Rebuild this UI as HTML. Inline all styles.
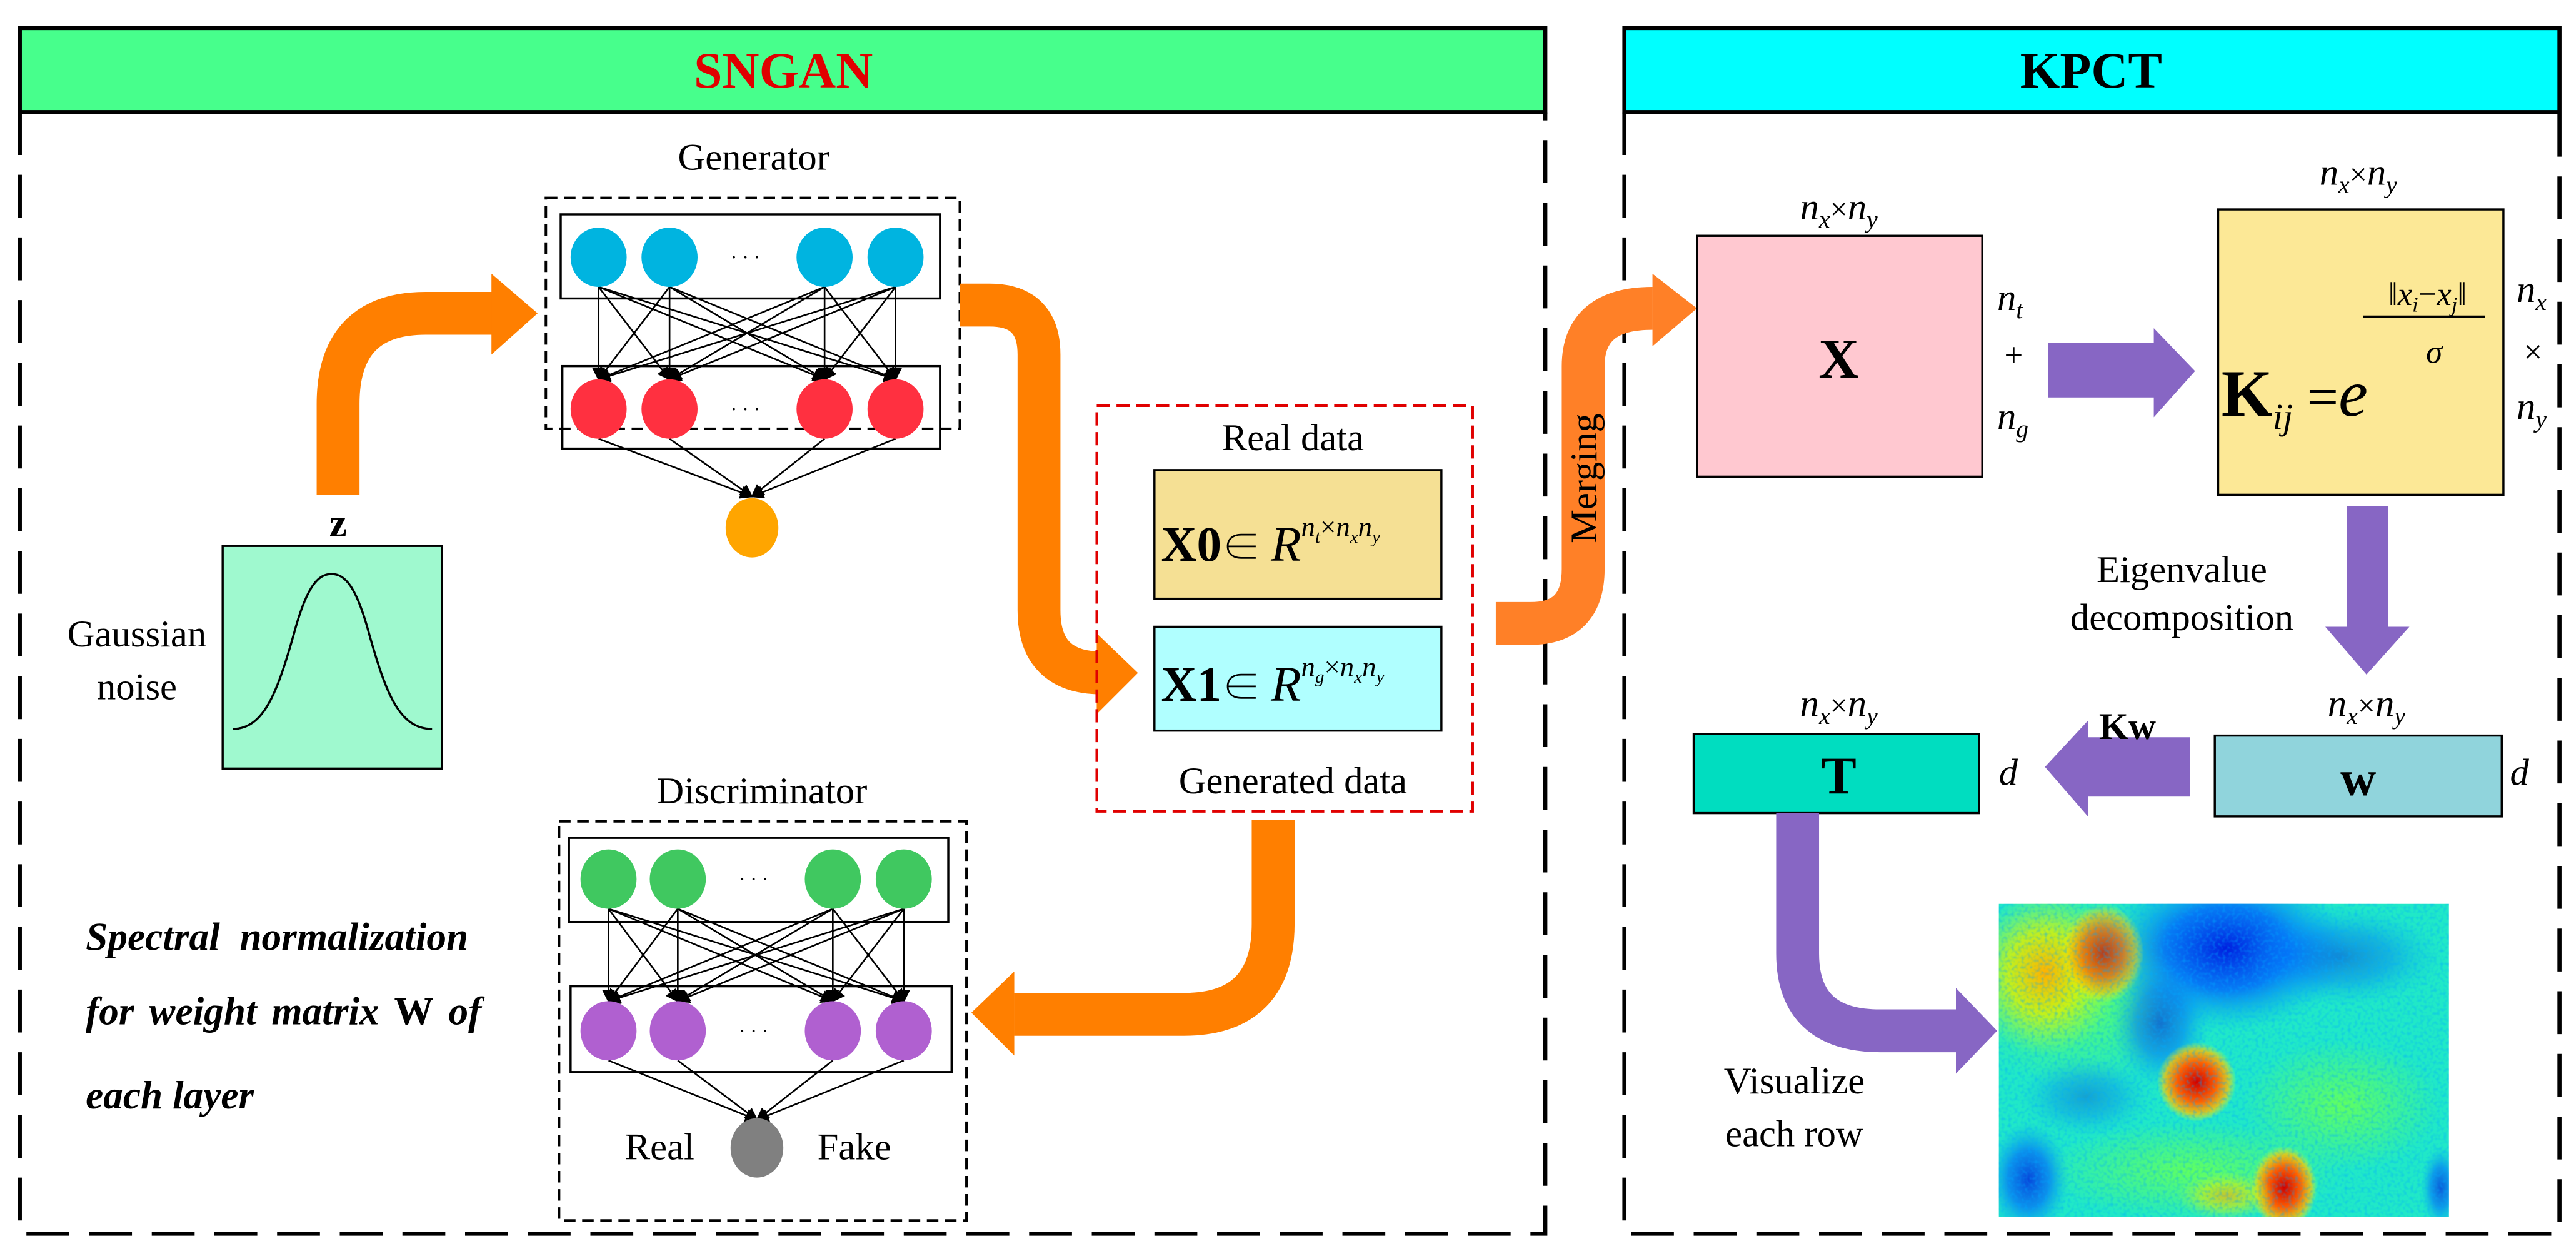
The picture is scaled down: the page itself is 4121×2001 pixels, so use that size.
<!DOCTYPE html>
<html><head><meta charset="utf-8"><style>
html,body{margin:0;padding:0;background:#fff;}
svg{display:block;font-family:"Liberation Serif","Noto Serif CJK SC","Times New Roman",serif;}
svg text{font-family:"Liberation Serif","Noto Serif CJK SC","Times New Roman",serif;}
</style></head><body>
<svg width="4121" height="2001" viewBox="0 0 1562 758.5" preserveAspectRatio="none" xmlns="http://www.w3.org/2000/svg">
<defs>
<marker id="ah" markerWidth="8" markerHeight="8" refX="7" refY="4" orient="auto" markerUnits="userSpaceOnUse"><path d="M0,0 L8,4 L0,8 z" fill="#000"/></marker>
<radialGradient id="rb"><stop offset="0" stop-color="#d00000"/><stop offset="0.5" stop-color="#ff6000"/><stop offset="0.8" stop-color="#ffc000" stop-opacity="0.8"/><stop offset="1" stop-color="#ffff00" stop-opacity="0"/></radialGradient>
<radialGradient id="yb"><stop offset="0" stop-color="#ffb000"/><stop offset="0.5" stop-color="#e0f000" stop-opacity="0.8"/><stop offset="1" stop-color="#a0ff40" stop-opacity="0"/></radialGradient>
<radialGradient id="bb"><stop offset="0" stop-color="#0020e0"/><stop offset="0.5" stop-color="#0060ff" stop-opacity="0.8"/><stop offset="1" stop-color="#00a0ff" stop-opacity="0"/></radialGradient>
<radialGradient id="gb"><stop offset="0" stop-color="#60ff60"/><stop offset="1" stop-color="#60ff60" stop-opacity="0"/></radialGradient>
<filter id="nz" x="0" y="0" width="1" height="1"><feTurbulence type="fractalNoise" baseFrequency="0.5" numOctaves="1" seed="3"/><feColorMatrix values="0 0 0 0 0  0 0 0 0 0.4  0 0 0 0 1  0 0 0 2 -0.9"/><feComposite in2="SourceGraphic" operator="in"/></filter>
<clipPath id="hc"><rect x="1212" y="548" width="273" height="190"/></clipPath>
</defs>

<!-- Panels -->
<rect x="12" y="17" width="925" height="51" fill="#47FF8C" stroke="#000" stroke-width="2.5"/>
<text x="475" y="53" text-anchor="middle" font-size="31" font-weight="bold" fill="#E00000">SNGAN</text>
<path d="M12,68 V748 H937 V68" fill="none" stroke="#000" stroke-width="2.5" stroke-dasharray="26,12"/>
<rect x="985" y="17" width="567" height="51" fill="#00FFFF" stroke="#000" stroke-width="2.5"/>
<text x="1268" y="53" text-anchor="middle" font-size="31" font-weight="bold" fill="#000">KPCT</text>
<path d="M985,68 V748 H1552 V68" fill="none" stroke="#000" stroke-width="2.5" stroke-dasharray="26,12"/>

<!-- Generator -->
<text x="457" y="103" text-anchor="middle" font-size="23">Generator</text>
<rect x="331" y="120" width="251" height="140" fill="none" stroke="#000" stroke-width="1.5" stroke-dasharray="7,4"/>
<rect x="340" y="130" width="230" height="51" fill="none" stroke="#000" stroke-width="1.3"/>
<rect x="341" y="222" width="229" height="50" fill="none" stroke="#000" stroke-width="1.3"/>
<g stroke="#000" stroke-width="1" marker-end="url(#ah)">
<line x1="363" y1="174" x2="363" y2="230"/><line x1="363" y1="174" x2="406" y2="230"/><line x1="363" y1="174" x2="500" y2="230"/><line x1="363" y1="174" x2="543" y2="230"/>
<line x1="406" y1="174" x2="363" y2="230"/><line x1="406" y1="174" x2="406" y2="230"/><line x1="406" y1="174" x2="500" y2="230"/><line x1="406" y1="174" x2="543" y2="230"/>
<line x1="500" y1="174" x2="363" y2="230"/><line x1="500" y1="174" x2="406" y2="230"/><line x1="500" y1="174" x2="500" y2="230"/><line x1="500" y1="174" x2="543" y2="230"/>
<line x1="543" y1="174" x2="363" y2="230"/><line x1="543" y1="174" x2="406" y2="230"/><line x1="543" y1="174" x2="500" y2="230"/><line x1="543" y1="174" x2="543" y2="230"/>
<line x1="363" y1="266" x2="456" y2="301"/><line x1="406" y1="266" x2="456" y2="301"/><line x1="500" y1="266" x2="456" y2="301"/><line x1="543" y1="266" x2="456" y2="301"/>
</g>
<g fill="#00B4E0"><ellipse cx="363" cy="156" rx="17" ry="18"/><ellipse cx="406" cy="156" rx="17" ry="18"/><ellipse cx="500" cy="156" rx="17" ry="18"/><ellipse cx="543" cy="156" rx="17" ry="18"/></g>
<g fill="#FF3040"><ellipse cx="363" cy="248" rx="17" ry="18"/><ellipse cx="406" cy="248" rx="17" ry="18"/><ellipse cx="500" cy="248" rx="17" ry="18"/><ellipse cx="543" cy="248" rx="17" ry="18"/></g>
<text x="452" y="160" text-anchor="middle" font-size="12">· · ·</text>
<text x="452" y="252" text-anchor="middle" font-size="12">· · ·</text>
<ellipse cx="456" cy="320" rx="16" ry="18" fill="#FFA500"/>

<!-- Gaussian -->
<rect x="135" y="331" width="133" height="135" fill="#9FF9CF" stroke="#000" stroke-width="1.3"/>
<path d="M141,442 C160,442 168,420 178,385 C186,355 193,348 201,348 C209,348 216,355 224,385 C234,420 242,442 262,442" fill="none" stroke="#000" stroke-width="1.3"/>
<text x="83" y="392" text-anchor="middle" font-size="23">Gaussian</text>
<text x="83" y="424" text-anchor="middle" font-size="23">noise</text>
<text x="205" y="325" text-anchor="middle" font-size="24" font-weight="bold">z</text>

<!-- Orange arrows -->
<g fill="none" stroke="#FF7F00" stroke-width="26">
<path d="M205,300 V245 Q205,190 258,190 H300"/>
<path d="M582,185 H600 Q630,185 630,215 V370 Q630,408 668,408"/>
<path d="M772,497 V560 Q772,615 718,615 H615"/>
</g>
<g fill="#FF7F00">
<polygon points="298,166 326,190 298,215"/>
<polygon points="665,384 690,408 665,433"/>
<polygon points="615,589 589,614 615,640"/>
</g>
<path d="M907,378 H928 Q960,378 960,345 V222 Q960,187 1002,187" fill="none" stroke="#FF8027" stroke-width="26"/>
<polygon points="1002,166 1029,187 1002,210" fill="#FF8027"/>
<text transform="translate(968,290) rotate(-90)" text-anchor="middle" font-size="23">Merging</text>

<!-- Data box -->
<rect x="665" y="246" width="228" height="246" fill="none" stroke="#E00000" stroke-width="1.5" stroke-dasharray="8,4"/>
<text x="784" y="273" text-anchor="middle" font-size="23">Real data</text>
<rect x="700" y="285" width="174" height="78" fill="#F5E094" stroke="#000" stroke-width="1.3"/>
<text x="704" y="340" font-size="30"><tspan font-weight="bold">X0</tspan><tspan font-size="24">∈ </tspan><tspan font-style="italic">R</tspan><tspan font-style="italic" font-size="17" dy="-15">n<tspan font-size="11" dy="4">t</tspan><tspan dy="-4" font-style="normal">×</tspan>n<tspan font-size="11" dy="4">x</tspan><tspan dy="-4">n</tspan><tspan font-size="11" dy="4">y</tspan></tspan></text>
<rect x="700" y="380" width="174" height="63" fill="#B0FFFF" stroke="#000" stroke-width="1.3"/>
<text x="704" y="425" font-size="30"><tspan font-weight="bold">X1</tspan><tspan font-size="24">∈ </tspan><tspan font-style="italic">R</tspan><tspan font-style="italic" font-size="17" dy="-15">n<tspan font-size="11" dy="4">g</tspan><tspan dy="-4" font-style="normal">×</tspan>n<tspan font-size="11" dy="4">x</tspan><tspan dy="-4">n</tspan><tspan font-size="11" dy="4">y</tspan></tspan></text>
<text x="784" y="481" text-anchor="middle" font-size="23">Generated data</text>

<!-- Discriminator -->
<text x="462" y="487" text-anchor="middle" font-size="23">Discriminator</text>
<rect x="339" y="498" width="247" height="242" fill="none" stroke="#000" stroke-width="1.5" stroke-dasharray="7,4"/>
<rect x="345" y="508" width="230" height="51" fill="none" stroke="#000" stroke-width="1.3"/>
<rect x="346" y="598" width="231" height="52" fill="none" stroke="#000" stroke-width="1.3"/>
<g stroke="#000" stroke-width="1" marker-end="url(#ah)">
<line x1="369" y1="551" x2="369" y2="607"/><line x1="369" y1="551" x2="411" y2="607"/><line x1="369" y1="551" x2="505" y2="607"/><line x1="369" y1="551" x2="548" y2="607"/>
<line x1="411" y1="551" x2="369" y2="607"/><line x1="411" y1="551" x2="411" y2="607"/><line x1="411" y1="551" x2="505" y2="607"/><line x1="411" y1="551" x2="548" y2="607"/>
<line x1="505" y1="551" x2="369" y2="607"/><line x1="505" y1="551" x2="411" y2="607"/><line x1="505" y1="551" x2="505" y2="607"/><line x1="505" y1="551" x2="548" y2="607"/>
<line x1="548" y1="551" x2="369" y2="607"/><line x1="548" y1="551" x2="411" y2="607"/><line x1="548" y1="551" x2="505" y2="607"/><line x1="548" y1="551" x2="548" y2="607"/>
<line x1="369" y1="643" x2="459" y2="679"/><line x1="411" y1="643" x2="459" y2="679"/><line x1="505" y1="643" x2="459" y2="679"/><line x1="548" y1="643" x2="459" y2="679"/>
</g>
<g fill="#40C860"><ellipse cx="369" cy="533" rx="17" ry="18"/><ellipse cx="411" cy="533" rx="17" ry="18"/><ellipse cx="505" cy="533" rx="17" ry="18"/><ellipse cx="548" cy="533" rx="17" ry="18"/></g>
<g fill="#B060D0"><ellipse cx="369" cy="625" rx="17" ry="18"/><ellipse cx="411" cy="625" rx="17" ry="18"/><ellipse cx="505" cy="625" rx="17" ry="18"/><ellipse cx="548" cy="625" rx="17" ry="18"/></g>
<text x="457" y="537" text-anchor="middle" font-size="12">· · ·</text>
<text x="457" y="629" text-anchor="middle" font-size="12">· · ·</text>
<ellipse cx="459" cy="696" rx="16" ry="18" fill="#808080"/>
<text x="400" y="703" text-anchor="middle" font-size="23">Real</text>
<text x="518" y="703" text-anchor="middle" font-size="23">Fake</text>
<g font-size="24" font-weight="bold" font-style="italic">
<text x="52" y="576" word-spacing="6">Spectral  normalization</text>
<text x="52" y="621" word-spacing="3">for weight matrix <tspan font-style="normal">W</tspan> of</text>
<text x="52" y="672">each layer</text>
</g>

<!-- KPCT content -->
<g font-style="italic" font-size="23">
<text x="1115" y="133" text-anchor="middle">n<tspan font-size="15" dy="5">x</tspan><tspan dy="-5" font-style="normal" font-size="19">×</tspan>n<tspan font-size="15" dy="5">y</tspan></text>
<text x="1430" y="112" text-anchor="middle">n<tspan font-size="15" dy="5">x</tspan><tspan dy="-5" font-style="normal" font-size="19">×</tspan>n<tspan font-size="15" dy="5">y</tspan></text>
<text x="1115" y="434" text-anchor="middle">n<tspan font-size="15" dy="5">x</tspan><tspan dy="-5" font-style="normal" font-size="19">×</tspan>n<tspan font-size="15" dy="5">y</tspan></text>
<text x="1435" y="434" text-anchor="middle">n<tspan font-size="15" dy="5">x</tspan><tspan dy="-5" font-style="normal" font-size="19">×</tspan>n<tspan font-size="15" dy="5">y</tspan></text>
<text x="1211" y="188">n<tspan font-size="15" dy="5">t</tspan></text>
<text x="1211" y="260">n<tspan font-size="15" dy="5">g</tspan></text>
<text x="1526" y="183">n<tspan font-size="15" dy="5">x</tspan></text>
<text x="1526" y="254">n<tspan font-size="15" dy="5">y</tspan></text>
<text x="1212" y="476">d</text>
<text x="1522" y="476">d</text>
</g>
<text x="1221" y="222" text-anchor="middle" font-size="20">+</text>
<text x="1536" y="220" text-anchor="middle" font-size="20">×</text>

<rect x="1029" y="143" width="173" height="146" fill="#FFC8D0" stroke="#000" stroke-width="1.3"/>
<text x="1115" y="229" text-anchor="middle" font-size="34" font-weight="bold">X</text>

<rect x="1345" y="127" width="173" height="173" fill="#FCE896" stroke="#000" stroke-width="1.3"/>
<text x="1347" y="252" font-size="40"><tspan font-weight="bold">K</tspan><tspan font-style="italic" font-size="22" dy="8">ij</tspan><tspan dy="-8" font-size="34"> =</tspan><tspan font-style="italic" font-size="40">e</tspan></text>
<text x="1472" y="185" text-anchor="middle" font-size="20" font-style="italic">‖x<tspan font-size="13" dy="4">i</tspan><tspan dy="-4" font-style="normal">−</tspan>x<tspan font-size="13" dy="4">j</tspan><tspan dy="-4">‖</tspan></text>
<line x1="1433" y1="192" x2="1507" y2="192" stroke="#000" stroke-width="1.3"/>
<text x="1476" y="220" text-anchor="middle" font-size="20" font-style="italic">σ</text>

<rect x="1343" y="446" width="174" height="49" fill="#90D4DC" stroke="#000" stroke-width="1.3"/>
<text x="1430" y="482" text-anchor="middle" font-size="30" font-weight="bold">w</text>
<rect x="1027" y="445" width="173" height="48" fill="#00DDC0" stroke="#000" stroke-width="1.3"/>
<text x="1115" y="481" text-anchor="middle" font-size="32" font-weight="bold">T</text>

<!-- Purple arrows -->
<g fill="#8766C4">
<rect x="1242" y="208" width="66" height="33"/>
<polygon points="1306,199 1331,225 1306,253"/>
<rect x="1423" y="307" width="25" height="75"/>
<polygon points="1410,380 1461,380 1435,409"/>
<rect x="1264" y="447" width="64" height="36"/>
<polygon points="1266,437 1240,465 1266,495"/>
<polygon points="1186,599 1211,625 1186,651"/>
</g>
<path d="M1090,493 V578 Q1090,625 1140,625 H1188" fill="none" stroke="#8766C4" stroke-width="26"/>
<text x="1290" y="448" text-anchor="middle" font-size="23" font-weight="bold">Kw</text>
<text x="1323" y="353" text-anchor="middle" font-size="23">Eigenvalue</text>
<text x="1323" y="382" text-anchor="middle" font-size="23">decomposition</text>
<text x="1088" y="663" text-anchor="middle" font-size="23">Visualize</text>
<text x="1088" y="695" text-anchor="middle" font-size="23">each row</text>

<!-- Heatmap -->
<g clip-path="url(#hc)">
<rect x="1212" y="548" width="273" height="190" fill="#20E8C8"/>
<ellipse cx="1260" cy="600" rx="70" ry="60" fill="url(#gb)"/>
<ellipse cx="1240" cy="590" rx="45" ry="50" fill="url(#yb)"/>
<ellipse cx="1350" cy="575" rx="75" ry="50" fill="url(#bb)"/>
<ellipse cx="1310" cy="620" rx="30" ry="40" fill="url(#bb)" opacity="0.6"/>
<ellipse cx="1420" cy="580" rx="60" ry="30" fill="url(#bb)" opacity="0.45"/>
<ellipse cx="1420" cy="670" rx="60" ry="40" fill="url(#gb)"/>
<ellipse cx="1330" cy="710" rx="90" ry="30" fill="url(#gb)"/>
<ellipse cx="1230" cy="715" rx="25" ry="35" fill="url(#bb)" opacity="0.8"/>
<ellipse cx="1265" cy="665" rx="40" ry="25" fill="url(#bb)" opacity="0.35"/>
<ellipse cx="1480" cy="720" rx="12" ry="25" fill="url(#bb)" opacity="0.7"/>
<ellipse cx="1275" cy="578" rx="25" ry="30" fill="url(#rb)" opacity="0.75"/>
<ellipse cx="1332" cy="656" rx="24" ry="24" fill="url(#rb)"/>
<ellipse cx="1385" cy="720" rx="20" ry="25" fill="url(#rb)"/>
<ellipse cx="1350" cy="725" rx="30" ry="15" fill="url(#yb)" opacity="0.7"/>
<rect x="1212" y="548" width="273" height="190" fill="#fff" filter="url(#nz)" opacity="0.6"/>
</g>
</svg>
</body></html>
